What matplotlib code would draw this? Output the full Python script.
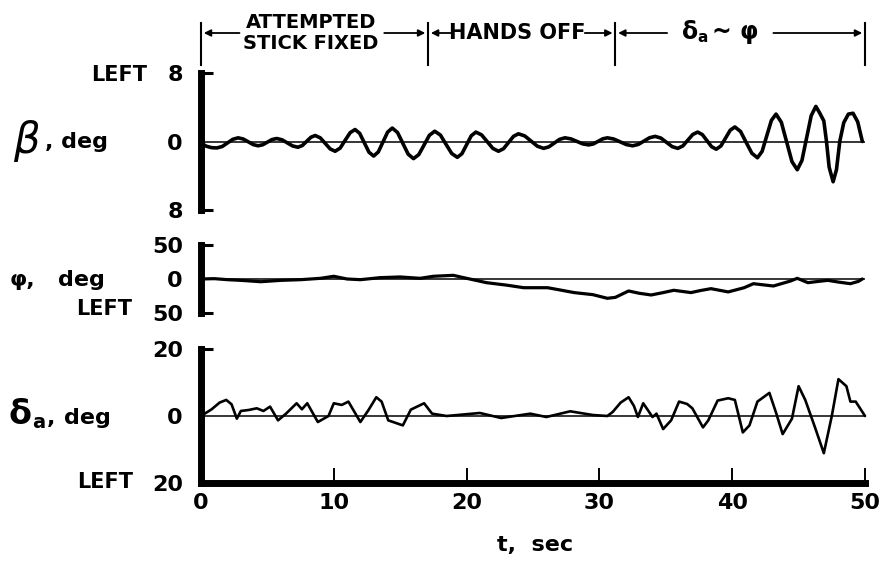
import matplotlib
matplotlib.use("Agg")
import matplotlib.pyplot as plt
from matplotlib import transforms

# sideslip angle beta, deg
beta_t = [0.0, 0.4, 0.8, 1.2, 1.6, 2.0, 2.4, 2.8, 3.18, 3.55, 3.93, 4.3, 4.65, 5.0, 5.35, 5.7,
          6.1, 6.5, 6.9, 7.3, 7.63, 7.95, 8.28, 8.6, 8.98, 9.35, 9.73, 10.1, 10.48, 10.85, 11.23, 11.6,
          11.95, 12.3, 12.65, 13.0, 13.35, 13.7, 14.05, 14.4, 14.8, 15.2, 15.6, 16.0, 16.4, 16.8, 17.2, 17.6,
          18.03, 18.45, 18.88, 19.3, 19.65, 20.0, 20.35, 20.7, 21.13, 21.55, 21.98, 22.4, 22.78, 23.15, 23.53, 23.9,
          24.38, 24.85, 25.33, 25.8, 26.2, 26.6, 27.0, 27.4, 27.85, 28.3, 28.75, 29.2, 29.55, 29.9, 30.25, 30.6,
          31.08, 31.55, 32.03, 32.5, 32.93, 33.35, 33.78, 34.2, 34.63, 35.05, 35.48, 35.9, 36.28, 36.65, 37.03, 37.4,
          37.75, 38.1, 38.45, 38.8, 39.15, 39.5, 39.85, 40.2, 40.63, 41.05, 41.48, 41.9, 42.25, 42.6, 42.95, 43.3,
          43.7, 44.1, 44.5, 44.9, 45.25, 45.6, 45.95, 46.3, 46.6, 46.9, 47.1, 47.3, 47.6, 47.85, 48.1, 48.4,
          48.75, 49.1, 49.45, 49.8]
beta_v = [-0.2, -0.55, -0.72, -0.75, -0.58, -0.16, 0.26, 0.43, 0.29, -0.03, -0.36, -0.5, -0.38, -0.07, 0.23, 0.35,
          0.2, -0.16, -0.52, -0.67, -0.47, 0.01, 0.5, 0.7, 0.43, -0.22, -0.87, -1.14, -0.77, 0.13, 1.03, 1.4,
          0.95, -0.15, -1.25, -1.7, -1.22, -0.07, 1.09, 1.57, 1.05, -0.22, -1.48, -2.0, -1.53, -0.4, 0.73, 1.2,
          0.75, -0.33, -1.4, -1.85, -1.42, -0.38, 0.67, 1.1, 0.77, -0.02, -0.81, -1.14, -0.84, -0.12, 0.6, 0.9,
          0.65, 0.05, -0.55, -0.8, -0.62, -0.19, 0.25, 0.43, 0.31, 0.02, -0.28, -0.4, -0.28, 0.02, 0.31, 0.43,
          0.29, -0.03, -0.36, -0.5, -0.34, 0.05, 0.44, 0.6, 0.4, -0.1, -0.6, -0.8, -0.52, 0.15, 0.82, 1.1,
          0.81, 0.1, -0.61, -0.9, -0.52, 0.4, 1.32, 1.7, 1.17, -0.1, -1.37, -1.9, -1.16, 0.65, 2.46, 3.2,
          2.25, -0.05, -2.35, -3.3, -2.22, 0.4, 3.02, 4.1, 3.3, 2.4, 0.0, -3.0, -4.7, -3.3, 0.0, 2.2,
          3.2, 3.3, 2.3, 0.0]

# bank angle phi, deg
phi_t = [0.0, 1.0, 2.0, 3.0, 4.5, 6.0, 7.5, 9.0, 10.0, 11.0, 12.0, 13.5, 15.0, 16.5, 17.5, 19.0,
         20.0, 21.5, 23.0, 24.3, 26.1, 27.0, 28.1, 29.5, 30.6, 31.2, 32.2, 33.0, 33.9, 34.8, 35.6, 36.9,
         37.6, 38.4, 39.7, 40.9, 41.6, 42.3, 43.1, 44.4, 44.9, 45.7, 46.5, 47.2, 48.0, 48.9, 49.5, 49.8]
phi_v = [0.0, 0.5, -1.0, -2.0, -4.0, -2.0, -1.0, 1.0, 4.0, 0.0, -1.0, 2.0, 3.0, 1.0, 4.0, 5.4,
         1.0, -5.4, -9.0, -12.8, -12.8, -16.0, -20.0, -23.0, -28.4, -27.0, -17.6, -21.0, -23.5, -20.0, -16.6, -20.0,
         -17.0, -14.2, -19.0, -12.8, -6.9, -8.5, -10.3, -2.9, 1.0, -5.4, -3.5, -2.0, -4.5, -6.9, -3.5, 0.0]

# aileron deflection delta_a, deg
delta_t = [0.0, 0.8, 1.4, 1.9, 2.3, 2.7, 3.0, 3.6, 4.2, 4.7, 5.2, 5.8, 6.4, 7.2, 7.6, 8.0,
           8.8, 9.6, 10.0, 10.6, 11.1, 12.0, 12.6, 13.2, 13.6, 14.1, 15.2, 15.8, 16.8, 17.4, 18.5, 21.0,
           22.6, 24.8, 26.0, 27.8, 29.5, 30.6, 31.0, 31.6, 32.2, 32.6, 32.9, 33.3, 34.0, 34.3, 34.8, 35.4,
           36.0, 36.6, 37.0, 37.8, 38.2, 38.9, 39.7, 40.2, 40.8, 41.3, 41.9, 42.8, 43.3, 43.8, 44.5, 45.0,
           45.5, 46.2, 46.9, 47.5, 48.0, 48.6, 48.9, 49.3, 50.0]
delta_v = [0.0, 2.0, 4.0, 4.8, 3.5, -0.8, 1.5, 1.8, 2.3, 1.5, 2.8, -1.3, 0.7, 3.8, 2.0, 3.8,
           -1.8, 0.0, 3.8, 3.3, 4.3, -1.8, 1.7, 5.6, 4.3, -1.3, -2.8, 1.9, 3.8, 0.7, 0.0, 0.9,
           -0.6, 0.7, -0.3, 1.4, 0.3, 0.0, 1.2, 4.0, 5.6, 3.0, -0.3, 3.8, -0.3, 0.7, -3.9, -1.3,
           4.3, 3.6, 2.3, -3.4, -1.3, 4.6, 5.3, 4.8, -4.9, -2.8, 4.3, 6.9, 1.0, -5.4, -0.8, 8.9,
           4.8, -3.0, -11.1, 0.0, 11.0, 8.9, 4.3, 4.3, 0.0]

phase_bounds = [0, 17.1, 31.2, 50]

plt.rcParams["font.family"] = ["DejaVu Sans"]
plt.rcParams["font.weight"] = "bold"

W, H = 885, 566
fig = plt.figure(figsize=(W / 100, H / 100), dpi=100)


def fx(px):
    return px / W


def fy(py):
    return 1 - py / H


def panel(top, bottom, t, v, lim, lw, last=False):
    ax = fig.add_axes([fx(201), fy(bottom), fx(865) - fx(201), fy(top) - fy(bottom)])
    ax.plot(t, v, color="black", lw=lw, solid_joinstyle="round", solid_capstyle="round", clip_on=False)
    ax.axhline(0, color="black", lw=1.1)
    ax.set_xlim(0, 50)
    ax.set_ylim(-lim, lim)
    for s in ["top", "right"]:
        ax.spines[s].set_visible(False)
    ax.spines["left"].set_linewidth(5)
    ax.set_yticks([-lim, 0, lim])
    ax.set_yticklabels([str(lim), "0", str(lim)], fontsize=16, fontweight="bold")
    ax.tick_params(axis="y", length=0, pad=13)
    ax.plot([0, 0.018], [1, 1], transform=ax.transAxes, color="black", lw=2.2,
            clip_on=False, solid_capstyle="butt")
    if last:
        ax.spines["bottom"].set_linewidth(5)
        ax.set_xticks([0, 10, 20, 30, 40, 50])
        ax.set_xticklabels(["0", "10", "20", "30", "40", "50"], fontsize=16, fontweight="bold")
        ax.tick_params(axis="x", direction="in", length=11, width=1.4, pad=7)
    else:
        ax.spines["bottom"].set_visible(False)
        ax.set_xticks([])
        ax.plot([0, 0.018], [0, 0], transform=ax.transAxes, color="black", lw=2.2,
                clip_on=False, solid_capstyle="butt")
    return ax


ax_b = panel(73, 210, beta_t, beta_v, 8, 2.6)
ax_p = panel(245, 313, phi_t, phi_v, 50, 2.3)
ax_d = panel(349, 483, delta_t, delta_v, 20, 1.9, last=True)

# "LEFT" marks next to the tick numbers
fig.text(fx(147), fy(75), "LEFT", ha="right", va="center", fontsize=15)
fig.text(fx(132), fy(309), "LEFT", ha="right", va="center", fontsize=15)
fig.text(fx(133), fy(482), "LEFT", ha="right", va="center", fontsize=15)

# axis names
fig.text(fx(13), fy(141), "β", fontsize=30, fontstyle="italic", fontweight="normal",
         ha="left", va="center")
fig.text(fx(45), fy(148), ", deg", fontsize=16, ha="left", va="baseline")
fig.text(fx(10), fy(286), "φ,", fontsize=16, ha="left", va="baseline")
fig.text(fx(58), fy(286), "deg", fontsize=16, ha="left", va="baseline")
fig.text(fx(9), fy(424), "δ", fontsize=24, ha="left", va="baseline")
fig.text(fx(32), fy(428), "a", fontsize=14, ha="left", va="baseline")
fig.text(fx(47), fy(424), ",", fontsize=16, ha="left", va="baseline")
fig.text(fx(64), fy(424), "deg", fontsize=16, ha="left", va="baseline")
fig.text(fx(535), fy(545), "t,  sec", fontsize=16, ha="center", va="center")

# phase brackets above the top panel
blend = transforms.blended_transform_factory(ax_b.transData, fig.transFigure)
for tb in phase_bounds:
    ax_b.plot([tb, tb], [fy(23), fy(65)], transform=blend, color="black", lw=1.5, clip_on=False)

ybar = fy(33)
segs = [(2.9, 0), (13.8, 17.1), (18.8, 17.1), (28.9, 31.2), (35.1, 31.2), (43.1, 50)]
for a, b in segs:
    ax_b.annotate("", xy=(b, ybar), xytext=(a, ybar), xycoords=blend, textcoords=blend,
                  arrowprops=dict(arrowstyle="-|>", color="black", lw=1.3, mutation_scale=10,
                                  shrinkA=0, shrinkB=2))

fig.text(fx(311), fy(33), "ATTEMPTED\nSTICK FIXED", fontsize=14, ha="center", va="center",
         multialignment="center", linespacing=1.15)
fig.text(fx(517), fy(33), "HANDS OFF", fontsize=15, ha="center", va="center")
fig.text(fx(682), fy(39), "δ", fontsize=17, ha="left", va="baseline")
fig.text(fx(697), fy(42), "a", fontsize=11, ha="left", va="baseline")
fig.text(fx(712), fy(39), "~ φ", fontsize=17, ha="left", va="baseline")

fig.savefig("out.png", dpi=100)
